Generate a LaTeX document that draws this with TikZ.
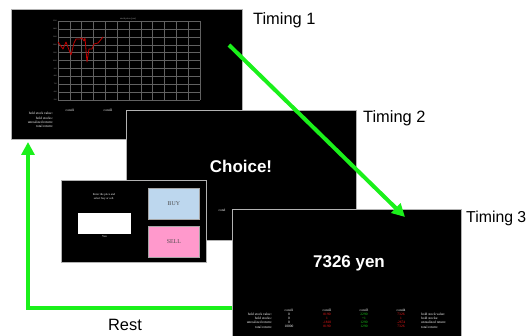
\documentclass[tikz,border=0pt]{standalone}
\usepackage{fontspec}
\setmainfont{Liberation Sans}
\newfontfamily\tinyserif{Liberation Serif}
\definecolor{lime}{HTML}{1AF01A}
\definecolor{buyblue}{HTML}{BDD7EE}
\definecolor{sellpink}{HTML}{FF99CC}
\definecolor{lossred}{HTML}{FF1A1A}
\definecolor{gaingreen}{HTML}{1AD11A}
\usepackage{tikz}
\usetikzlibrary{arrows.meta, positioning}

\begin{document}
\begin{tikzpicture}[x=0.03cm, y=-0.03cm,
  screen/.style={draw=gray!60, line width=0.7pt, fill=black, anchor=north west,
    inner sep=0pt, outer sep=0pt},
  timing/.style={anchor=west, font=\fontsize{14}{16}\selectfont},
  bigmsg/.style={text=white, font=\bfseries\fontsize{14.5}{16}\selectfont},
  tinytxt/.style={text=white, inner sep=0pt, font=\tinyserif\fontsize{3}{3.6}\selectfont},
  gridln/.style={white!38!black, line width=0.3pt},
  button/.style={draw=gray!70, line width=0.6pt, anchor=north west, inner sep=0pt,
    minimum width=1.53cm, minimum height=0.93cm, text=gray!60!black,
    font=\tinyserif\fontsize{5}{6}\selectfont},
  flow/.style={lime, line width=3.4pt, -{Triangle[length=11pt, width=11pt]}}]

  \useasboundingbox (0,0) rectangle (531,336);

  % Timing 1: price chart
  \node[screen, minimum width=6.93cm, minimum height=3.9cm] (s1) at (11,9) {};
  \foreach \i in {0,...,12}
    \draw[gridln] ({58+\i*142/12},21) -- ({58+\i*142/12},100);
  \foreach \j in {0,...,10}
    \draw[gridln] (58,{21+\j*7.9}) -- (200,{21+\j*7.9});
  \foreach \j [evaluate=\j as \v using int(1500-\j*100)] in {0,...,10}
    \node[tinytxt, text=gray!60, anchor=east, font=\tinyserif\fontsize{1.6}{2}\selectfont]
      at (57,{21+\j*7.9}) {\v};
  \node[tinytxt, text=gray!60, font=\tinyserif\fontsize{2}{2.4}\selectfont] (ctitle) at (128,19) {stock price (yen)};
  \draw[red!75!black, line width=0.7pt, line join=round] plot coordinates {(58,42) (63,49) (66,42) (71,55)
    (74,43) (76,39) (80,39) (82,38) (84,41) (85,38) (87,62) (89,49) (92,49) (94,44) (98,43) (103,37)};
  \node[tinytxt] (c1a) at (70,110) {cond1};
  \node[tinytxt] (c1b) at (108,110) {cond2};
  \node[tinytxt, anchor=east, align=right] (lab1) at (53,120)
    {hold stock value:\\hold stocks:\\unrealized return:\\total return:};
  \node[timing] (t1) at (249,20) {Timing 1};

  % Timing 2: choice
  \node[screen, minimum width=6.9cm, minimum height=3.9cm] (s2) at (126,110) {};
  \node[bigmsg] (choice) at (241,166) {Choice!};
  \node[tinytxt] (c2) at (222,210) {cond};
  \node[timing] (t2) at (359,118) {Timing 2};

  % price entry screen
  \node[screen, minimum width=4.35cm, minimum height=2.46cm] (s3) at (61,180) {};
  \node[tinytxt, align=center, font=\tinyserif\fontsize{2.5}{3}\selectfont] (ask) at (104,197)
    {Enter the price and\\select buy or sell.};
  \node[fill=white, anchor=north west, inner sep=0pt, outer sep=0pt,
    minimum width=1.59cm, minimum height=0.63cm] (price) at (78,213) {};
  \node[tinytxt, font=\tinyserif\fontsize{2.5}{3}\selectfont, below=1.2pt of price] (yen) {Yen};
  \node[button, fill=buyblue] (buy) at (148,188) {BUY};
  \node[button, fill=sellpink] (sell) at (148,226) {SELL};

  % Timing 3: result
  \node[screen, minimum width=6.87cm, minimum height=3.96cm] (s4) at (232,209) {};
  \node[bigmsg] (gain) at (349,263) {7326 yen};
  \node[tinytxt, anchor=east, align=right] (lab4) at (272,320.5)
    {hold stock value:\\hold stocks:\\unrealized return:\\total return:};
  \node[tinytxt, anchor=west, align=left] (lab5) at (421,320.5)
    {hold stock value:\\hold stocks:\\unrealized return:\\total return:};
  \node[tinytxt] (h1) at (289,310) {cond1};
  \node[tinytxt] (h2) at (327,310) {cond2};
  \node[tinytxt] (h3) at (364,310) {cond3};
  \node[tinytxt] (h4) at (401,310) {cond4};
  \node[tinytxt, align=center, below=1pt of h1] (v1) {0\\0\\0\\10000};
  \node[tinytxt, align=center, text=lossred, below=1pt of h2] (v2) {8190\\1\\-1810\\8190};
  \node[tinytxt, align=center, text=gaingreen, below=1pt of h3] (v3) {2290\\+1\\1290\\1290};
  \node[tinytxt, align=center, text=lossred, below=1pt of h4] (v4) {7326\\1\\-2674\\7326};
  \node[timing, font=\fontsize{13.5}{16}\selectfont, inner xsep=0pt] (t3) at (466,218) {Timing 3};

  % flow between timings
  \coordinate (go) at (229,45);
  \coordinate (land) at (405,217);
  \coordinate (back) at (232,308);
  \coordinate (up) at (28,142);
  \draw[flow] (go) -- (land);
  \draw[flow] (back) -| (up);
  \node[font=\fontsize{14}{16}\selectfont] (rest) at (125,325) {Rest};
\end{tikzpicture}
\end{document}
